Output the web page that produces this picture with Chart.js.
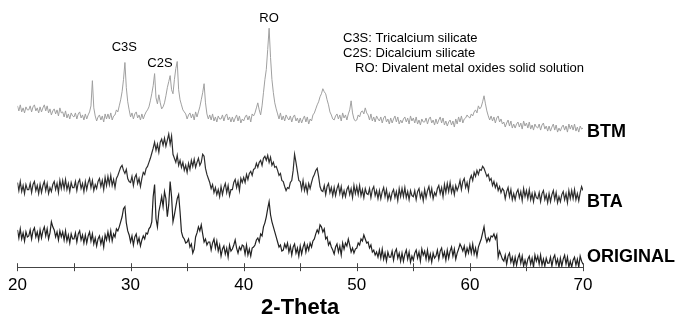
<!DOCTYPE html>
<html>
<head>
<meta charset="utf-8">
<script src="https://cdn.jsdelivr.net/npm/chart.js@4/dist/chart.umd.min.js"></script>
<style>
  html, body { margin: 0; padding: 0; background: #fff; }
  #wrap { width: 677px; height: 325px; position: relative; }
</style>
</head>
<body>
<div id="wrap"><canvas id="xrd" width="677" height="325"></canvas></div>
<script>
// 2-theta grid: 20 .. 70 deg, every 0.125 deg
const thetaStart = 20;
const thetaStep = 0.125;

// intensities (arbitrary units, already stacked with offsets), 8 values per degree
const btm = [
  160, 155, 161, 154, 158, 153, 159, 156,  // 20
  156, 160, 154, 159, 161, 155, 158, 153,  // 21
  159, 154, 158, 161, 155, 160, 153, 157,  // 22
  151, 155, 157, 152, 156, 150, 158, 153,  // 23
  154, 149, 155, 148, 152, 147, 153, 150,  // 24
  149, 153, 147, 152, 154, 148, 151, 146,  // 25
  152, 147, 151, 154, 160, 185, 158, 150,  // 26
  145, 149, 151, 146, 150, 144, 152, 147,  // 27
  152, 147, 153, 146, 150, 151, 156, 154,  // 28
  160, 166, 174, 186, 203, 178, 164, 156,  // 29
  149, 153, 147, 152, 154, 148, 151, 146,  // 30
  152, 147, 151, 154, 156, 159, 165, 172,  // 31
  180, 192, 168, 162, 171, 163, 157, 159,  // 32
  163, 170, 178, 184, 190, 176, 172, 186,  // 33
  197, 204, 176, 166, 161, 156, 154, 152,  // 34
  147, 151, 153, 148, 152, 146, 154, 149,  // 35
  154, 159, 166, 173, 182, 163, 152, 147,  // 36
  151, 146, 152, 145, 149, 144, 150, 147,  // 37
  147, 151, 145, 150, 152, 146, 149, 144,  // 38
  149, 144, 148, 151, 145, 150, 143, 147,  // 39
  145, 149, 151, 146, 150, 144, 152, 150,  // 40
  153, 158, 163, 156, 151, 160, 173, 186,  // 41
  196, 216, 237, 208, 186, 173, 163, 157,  // 42
  152, 147, 153, 146, 150, 145, 151, 148,  // 43
  146, 150, 144, 149, 151, 145, 148, 143,  // 44
  148, 143, 147, 150, 144, 149, 142, 147,  // 45
  145, 151, 153, 157, 161, 164, 169, 172,  // 46
  177, 174, 172, 166, 161, 154, 151, 147,  // 47
  146, 150, 152, 147, 151, 145, 153, 148,  // 48
  151, 146, 152, 156, 165, 153, 147, 145,  // 49
  146, 151, 149, 154, 155, 152, 158, 153,  // 50
  151, 146, 152, 145, 149, 144, 150, 147,  // 51
  145, 149, 143, 148, 150, 144, 147, 142,  // 52
  148, 143, 147, 150, 144, 149, 142, 146,  // 53
  143, 147, 149, 144, 148, 142, 150, 145,  // 54
  148, 143, 149, 142, 146, 141, 147, 144,  // 55
  144, 148, 142, 147, 149, 143, 146, 141,  // 56
  147, 142, 146, 149, 143, 148, 141, 145,  // 57
  140, 144, 146, 141, 145, 139, 147, 142,  // 58
  149, 144, 150, 143, 147, 148, 151, 149,  // 59
  148, 152, 150, 154, 156, 153, 160, 157,  // 60
  159, 164, 170, 162, 155, 150, 146, 150,  // 61
  145, 149, 143, 148, 150, 144, 147, 142,  // 62
  144, 139, 143, 146, 140, 145, 138, 142,  // 63
  138, 142, 144, 139, 143, 137, 145, 140,  // 64
  143, 138, 144, 137, 141, 136, 142, 139,  // 65
  138, 142, 136, 141, 143, 137, 140, 135,  // 66
  140, 135, 139, 142, 136, 141, 134, 138,  // 67
  135, 139, 141, 136, 140, 134, 142, 137,  // 68
  141, 136, 142, 135, 139, 134, 140, 137,  // 69
  138                                      // 70
];
const bta = [
  84, 76, 85, 75, 81, 73, 82, 77,  // 20
  77, 83, 74, 82, 85, 76, 81, 73,  // 21
  82, 74, 81, 85, 76, 83, 73, 79,  // 22
  75, 82, 85, 77, 83, 74, 86, 78,  // 23
  86, 78, 87, 77, 83, 75, 84, 79,  // 24
  79, 85, 76, 84, 87, 78, 83, 75,  // 25
  85, 77, 84, 88, 79, 86, 76, 82,  // 26
  78, 85, 88, 80, 86, 77, 89, 81,  // 27
  90, 82, 91, 81, 87, 79, 88, 91,  // 28
  95, 99, 101, 96, 93, 97, 88, 85,  // 29
  84, 90, 81, 89, 92, 83, 88, 80,  // 30
  88, 94, 92, 98, 100, 104, 108, 113,  // 31
  118, 124, 116, 122, 114, 124, 127, 121,  // 32
  128, 120, 126, 132, 122, 130, 112, 108,  // 33
  104, 111, 101, 106, 99, 104, 96, 101,  // 34
  94, 103, 97, 106, 100, 107, 99, 104,  // 35
  108, 101, 104, 112, 110, 98, 92, 88,  // 36
  84, 78, 82, 74, 79, 72, 77, 70,  // 37
  80, 72, 79, 83, 74, 81, 71, 77,  // 38
  77, 84, 87, 79, 85, 76, 88, 84,  // 39
  89, 84, 92, 87, 93, 95, 91, 97,  // 40
  98, 103, 99, 104, 106, 101, 108, 110,  // 41
  106, 111, 104, 109, 101, 104, 99, 100,  // 42
  96, 91, 93, 86, 85, 80, 76, 79,  // 43
  78, 84, 86, 96, 112, 104, 95, 86,  // 44
  85, 77, 86, 76, 82, 74, 83, 78,  // 45
  84, 89, 92, 96, 98, 90, 80, 76,  // 46
  75, 81, 72, 80, 83, 74, 79, 71,  // 47
  79, 71, 78, 82, 73, 80, 70, 76,  // 48
  70, 77, 80, 72, 78, 69, 81, 73,  // 49
  80, 72, 81, 71, 77, 69, 78, 73,  // 50
  72, 78, 69, 77, 80, 71, 76, 68,  // 51
  76, 68, 75, 79, 70, 77, 67, 73,  // 52
  67, 74, 77, 69, 75, 66, 78, 70,  // 53
  78, 70, 79, 69, 75, 67, 76, 71,  // 54
  70, 76, 67, 75, 78, 69, 74, 66,  // 55
  77, 69, 76, 80, 71, 78, 68, 74,  // 56
  71, 78, 81, 73, 79, 70, 82, 74,  // 57
  83, 75, 84, 74, 80, 72, 81, 76,  // 58
  80, 86, 77, 85, 88, 79, 84, 76,  // 59
  87, 91, 86, 94, 90, 96, 92, 97,  // 60
  96, 100, 98, 94, 90, 92, 86, 88,  // 61
  81, 85, 79, 83, 76, 80, 74, 78,  // 62
  76, 68, 75, 79, 70, 77, 67, 73,  // 63
  67, 74, 77, 69, 75, 66, 78, 70,  // 64
  76, 68, 77, 67, 73, 65, 74, 69,  // 65
  68, 74, 65, 73, 76, 67, 72, 64,  // 66
  73, 65, 72, 76, 67, 74, 64, 70,  // 67
  65, 72, 75, 67, 73, 64, 76, 68,  // 68
  76, 68, 77, 67, 73, 66, 74, 80,  // 69
  76                               // 70
];
const original = [
  37, 29, 38, 28, 34, 26, 35, 30,  // 20
  31, 37, 28, 36, 39, 30, 35, 27,  // 21
  37, 29, 36, 40, 31, 38, 28, 34,  // 22
  45, 40, 37, 30, 35, 27, 36, 30,  // 23
  35, 27, 36, 26, 32, 24, 33, 28,  // 24
  28, 34, 25, 33, 36, 27, 32, 24,  // 25
  32, 24, 31, 35, 26, 33, 23, 29,  // 26
  21, 28, 31, 23, 29, 20, 32, 27,  // 27
  35, 27, 36, 26, 33, 30, 38, 36,  // 28
  40, 45, 50, 58, 60, 44, 36, 32,  // 29
  25, 31, 22, 30, 33, 24, 29, 21,  // 30
  27, 31, 28, 34, 33, 38, 40, 45,  // 31
  70, 82, 48, 40, 55, 62, 70, 60,  // 32
  75, 68, 50, 62, 85, 70, 45, 52,  // 33
  60, 68, 72, 55, 35, 30, 28, 24,  // 34
  25, 28, 20, 23, 14, 18, 30, 34,  // 35
  40, 36, 42, 33, 25, 28, 22, 25,  // 36
  25, 17, 24, 28, 19, 26, 16, 22,  // 37
  11, 18, 21, 13, 19, 10, 22, 16,  // 38
  18, 22, 27, 19, 14, 20, 17, 22,  // 39
  21, 13, 22, 12, 18, 11, 19, 20,  // 40
  22, 27, 29, 25, 33, 31, 40, 44,  // 41
  50, 58, 65, 52, 45, 40, 35, 30,  // 42
  25, 20, 22, 16, 17, 23, 19, 24,  // 43
  15, 21, 12, 20, 23, 14, 19, 11,  // 44
  21, 13, 20, 24, 15, 22, 17, 24,  // 45
  20, 26, 28, 33, 37, 34, 42, 40,  // 46
  35, 38, 28, 30, 22, 25, 20, 17,  // 47
  13, 20, 23, 15, 21, 12, 24, 18,  // 48
  24, 21, 28, 22, 15, 19, 14, 18,  // 49
  19, 24, 22, 28, 26, 32, 28, 24,  // 50
  25, 19, 22, 15, 17, 12, 15, 10,  // 51
  17, 9, 18, 8, 14, 6, 15, 10,  // 52
  10, 16, 7, 15, 18, 9, 14, 6,  // 53
  14, 6, 13, 17, 8, 15, 5, 11,  // 54
  7, 14, 17, 9, 15, 6, 18, 12,  // 55
  16, 8, 17, 7, 13, 5, 14, 9,  // 56
  11, 17, 8, 16, 19, 10, 15, 7,  // 57
  17, 9, 16, 20, 11, 18, 8, 14,  // 58
  18, 23, 20, 16, 21, 12, 19, 14,  // 59
  22, 14, 23, 13, 19, 11, 20, 24,  // 60
  28, 34, 40, 30, 25, 29, 26, 31,  // 61
  30, 33, 28, 32, 10, 16, 12, 8,  // 62
  6, 12, 3, 11, 14, 5, 10, 2,  // 63
  10, 2, 9, 13, 4, 11, 1, 7,  // 64
  1, 8, 11, 3, 9, 0, 12, 6,  // 65
  11, 3, 12, 2, 8, 1, 9, 4,  // 66
  4, 10, 1, 9, 12, 3, 8, 0,  // 67
  9, 1, 8, 12, 3, 10, 0, 6,  // 68
  0, 7, 10, 2, 8, 0, 11, 6,  // 69
  3                          // 70
];

const seriesNames = ['BTM', 'BTA', 'ORIGINAL'];
const seriesLabelLevels = [134, 65, 10];

const peakNames = ['C3S', 'C2S', 'RO'];
const peakTheta = [29.45, 32.6, 42.25];
const peakLabelLevels = [212, 196, 240];

const keyLines = ['C3S: Tricalcium silicate', 'C2S: Dicalcium silicate', 'RO: Divalent metal oxides solid solution'];

const xTicks = [20, 25, 30, 35, 40, 45, 50, 55, 60, 65, 70];

function toPoints(vals) {
  return vals.map((v, i) => ({ x: thetaStart + i * thetaStep, y: v }));
}

const annotate = {
  id: 'annotate',
  afterDraw(chart) {
    const ctx = chart.ctx;
    const xs = chart.scales.x;
    const ys = chart.scales.y;
    const area = chart.chartArea;
    ctx.save();

    // tick marks crossing the axis line
    ctx.strokeStyle = '#444';
    ctx.lineWidth = 1;
    xTicks.forEach(t => {
      const px = Math.round(xs.getPixelForValue(t)) + 0.5;
      ctx.beginPath();
      ctx.moveTo(px, area.bottom - 4);
      ctx.lineTo(px, area.bottom + 4);
      ctx.stroke();
    });

    // peak labels
    ctx.fillStyle = '#000';
    ctx.font = '13px "Liberation Sans", Arial, sans-serif';
    ctx.textAlign = 'center';
    ctx.textBaseline = 'bottom';
    peakNames.forEach((n, i) => {
      ctx.fillText(n, xs.getPixelForValue(peakTheta[i]), ys.getPixelForValue(peakLabelLevels[i]));
    });

    // key
    ctx.textAlign = 'left';
    ctx.textBaseline = 'middle';
    const keyX = [343, 343, 355];
    keyLines.forEach((s, i) => {
      ctx.fillText(s, keyX[i], 38 + i * 15.3);
    });

    // series names at right
    ctx.font = 'bold 18px "Liberation Sans", Arial, sans-serif';
    seriesNames.forEach((n, i) => {
      ctx.fillText(n, area.right + 4, ys.getPixelForValue(seriesLabelLevels[i]));
    });
    ctx.restore();
  }
};

new Chart(document.getElementById('xrd'), {
  type: 'line',
  data: {
    datasets: [
      { label: 'BTM', data: toPoints(btm), borderColor: '#a0a0a0', borderWidth: 1 },
      { label: 'BTA', data: toPoints(bta), borderColor: '#2e2e2e', borderWidth: 1.2 },
      { label: 'ORIGINAL', data: toPoints(original), borderColor: '#222', borderWidth: 1.2 }
    ]
  },
  options: {
    responsive: false,
    animation: false,
    devicePixelRatio: 1,
    layout: { padding: { left: 17, right: 94, top: 0, bottom: 4 } },
    elements: { point: { radius: 0 }, line: { tension: 0 } },
    plugins: { legend: { display: false }, tooltip: { enabled: false } },
    scales: {
      x: {
        type: 'linear',
        min: 20,
        max: 70,
        grid: { display: false, drawTicks: false },
        border: { display: true, color: '#444', width: 1 },
        ticks: {
          stepSize: 10,
          padding: 8,
          color: '#000',
          maxRotation: 0,
          font: { family: '"Liberation Sans", Arial, sans-serif', size: 17 }
        },
        title: {
          display: true,
          text: '2-Theta',
          color: '#000',
          padding: { top: -9, bottom: 0 },
          font: { family: '"Liberation Sans", Arial, sans-serif', size: 22, weight: 'bold' }
        }
      },
      y: { display: false, min: 0, max: 265 }
    }
  },
  plugins: [annotate]
});
</script>
</body>
</html>
